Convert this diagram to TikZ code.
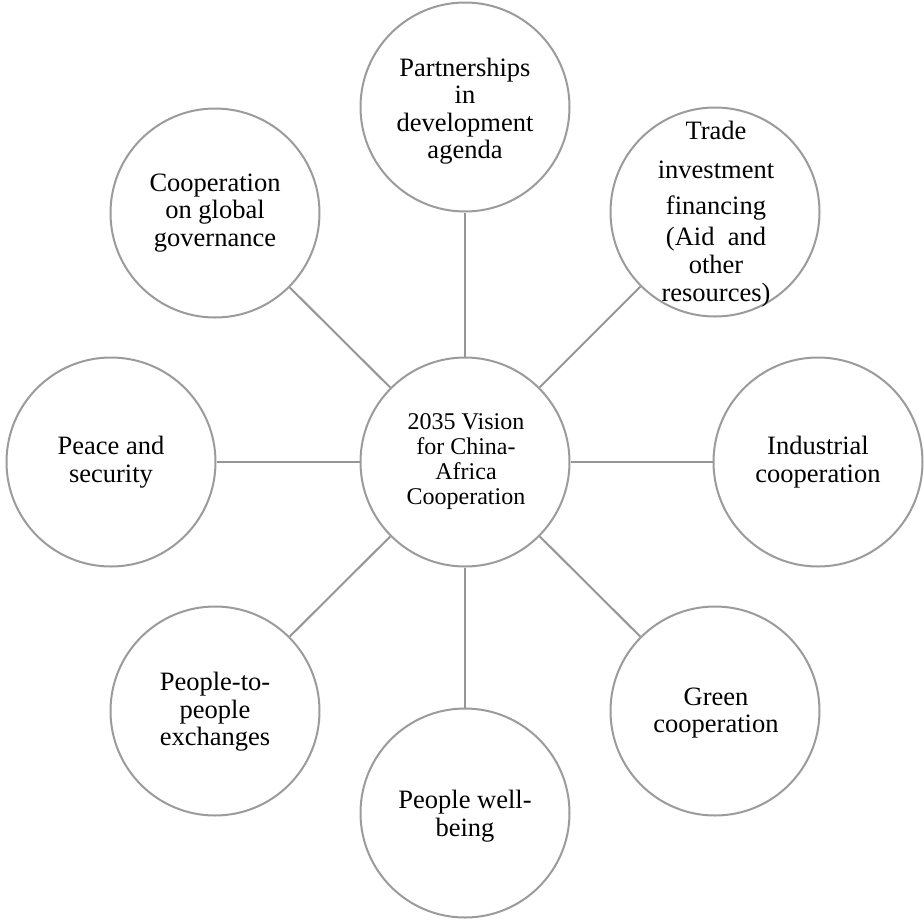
\documentclass[tikz,border=0pt]{standalone}
\usepackage{fontspec}
\setmainfont{Liberation Serif}
\definecolor{linegray}{RGB}{150,150,150}
\definecolor{circgray}{RGB}{155,155,155}
\begin{document}
\begin{tikzpicture}[x=1pt,y=-1pt,
  bub/.style={circle,draw=circgray,line width=2pt,minimum size=209pt,inner sep=0pt,fill=white},
  conn/.style={draw=linegray,line width=2pt},
  txt/.style={align=center,inner sep=0pt,font=\fontsize{26.5}{27.5}\selectfont},
  ctxt/.style={align=center,inner sep=0pt,font=\fontsize{24}{25}\selectfont}]
\useasboundingbox (0,0) rectangle (924,919);
\node[bub] (c)  at (465,462) {};
\node[bub] (n)  at (465,107) {};
\node[bub] (ne) at (715,212) {};
\node[bub] (e)  at (818,462) {};
\node[bub] (se) at (715,711) {};
\node[bub] (s)  at (465,813) {};
\node[bub] (sw) at (215,711) {};
\node[bub] (w)  at (111,462) {};
\node[bub] (nw) at (215,213) {};
\foreach \o in {n,ne,e,se,s,sw,w,nw} \draw[conn] (c) -- (\o);
\node[ctxt] at (466,462) {2035 Vision\\for China-\\Africa\\Cooperation};
\node[txt] at (465,111) {Partnerships\\in\\development\\agenda};
\node[txt] at (716,214) {Trade\\[12pt]investment\\[8pt]financing\\[4pt](Aid\ \ and\\other\\[1pt]resources)};
\node[txt] at (818,462) {Industrial\\cooperation};
\node[txt] at (716,713) {Green\\cooperation};
\node[txt] at (465,816) {People well-\\being};
\node[txt] at (215,712) {People-to-\\people\\exchanges};
\node[txt] at (111,462) {Peace and\\security};
\node[txt] at (215,213) {Cooperation\\on global\\governance};
\end{tikzpicture}
\end{document}
